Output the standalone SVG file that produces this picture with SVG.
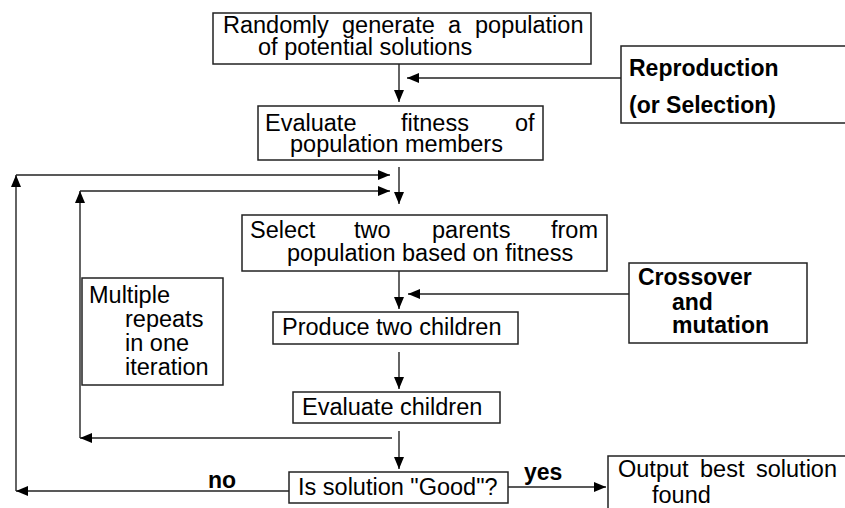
<svg xmlns="http://www.w3.org/2000/svg" width="845" height="508" viewBox="0 0 845 508">
  <defs>
    <marker id="arrow" markerUnits="userSpaceOnUse" markerWidth="12" markerHeight="10" refX="12" refY="5" orient="auto">
      <path d="M0,0 L12,5 L0,10 z" fill="#000"/>
    </marker>
    <style>
      .box { fill: #fff; stroke: #222; stroke-width: 1.5; }
      .txt { font-family: "Liberation Sans", Arial, sans-serif; font-size: 23.5px; fill: #000; }
      .bold { font-family: "Liberation Sans", Arial, sans-serif; font-size: 23px; font-weight: bold; fill: #000; }
      .conn line { stroke: #222; stroke-width: 1.4; marker-end: url(#arrow); }
    </style>
  </defs>
  <rect width="845" height="508" fill="#fff"/>

  <!-- connectors -->
  <g id="connectors" class="conn">
    <line x1="399" y1="64" x2="399" y2="102"/>
    <line x1="621" y1="78" x2="407" y2="78"/>
    <line x1="399" y1="167" x2="399" y2="204"/>
    <line x1="399" y1="271" x2="399" y2="309"/>
    <line x1="629" y1="294" x2="408" y2="294"/>
    <line x1="399" y1="352" x2="399" y2="389"/>
    <line x1="399" y1="431" x2="399" y2="469"/>
    <line x1="508" y1="487" x2="606" y2="487"/>
    <!-- outer loop: solution not good enough -->
    <line x1="289" y1="491" x2="16" y2="491"/>
    <line x1="16" y1="491" x2="16" y2="175"/>
    <line x1="16" y1="175" x2="390" y2="175"/>
    <!-- inner loop: repeats within one iteration -->
    <line x1="392" y1="438" x2="80" y2="438"/>
    <line x1="80" y1="438" x2="80" y2="191"/>
    <line x1="80" y1="191" x2="390" y2="191"/>
  </g>

  <g id="generate">
    <rect class="box" x="213" y="13" width="378" height="51"/>
    <text class="txt"><tspan x="223" y="33">Randomly</tspan><tspan x="342" y="33">generate</tspan><tspan x="448" y="33">a</tspan><tspan x="475" y="33">population</tspan><tspan x="258" y="55">of potential solutions</tspan></text>
  </g>

  <g id="reproduction">
    <rect class="box" x="621" y="46" width="240" height="77"/>
    <text class="bold"><tspan x="629" y="76">Reproduction</tspan><tspan x="629" y="113">(or Selection)</tspan></text>
  </g>

  <g id="evaluate-fitness">
    <rect class="box" x="258" y="106" width="285" height="54"/>
    <text class="txt"><tspan x="265" y="131">Evaluate</tspan><tspan x="401" y="131">fitness</tspan><tspan x="515" y="131">of</tspan><tspan x="290" y="152">population members</tspan></text>
  </g>

  <g id="select-parents">
    <rect class="box" x="242" y="215" width="365" height="56"/>
    <text class="txt"><tspan x="250" y="238">Select</tspan><tspan x="354" y="238">two</tspan><tspan x="432" y="238">parents</tspan><tspan x="551" y="238">from</tspan><tspan x="287" y="261">population based on fitness</tspan></text>
  </g>

  <g id="crossover">
    <rect class="box" x="629" y="263" width="178" height="80"/>
    <text class="bold"><tspan x="638" y="285">Crossover</tspan><tspan x="672" y="310">and</tspan><tspan x="672" y="333">mutation</tspan></text>
  </g>

  <g id="repeats">
    <rect class="box" x="82" y="278" width="141" height="107"/>
    <text class="txt"><tspan x="89" y="303">Multiple</tspan><tspan x="125" y="327">repeats</tspan><tspan x="125" y="351">in one</tspan><tspan x="125" y="375">iteration</tspan></text>
  </g>

  <g id="produce-children">
    <rect class="box" x="273" y="312" width="245" height="32"/>
    <text class="txt" x="282" y="335">Produce two children</text>
  </g>

  <g id="evaluate-children">
    <rect class="box" x="293" y="392" width="207" height="31"/>
    <text class="txt" x="302" y="415">Evaluate children</text>
  </g>

  <g id="is-good">
    <rect class="box" x="289" y="472" width="219" height="31"/>
    <text class="txt" x="298" y="495">Is solution "Good"?</text>
    <text class="bold" x="208" y="488">no</text>
    <text class="bold" x="524" y="480">yes</text>
  </g>

  <g id="output">
    <rect class="box" x="608" y="456" width="250" height="70"/>
    <text class="txt"><tspan x="618" y="477">Output</tspan><tspan x="700" y="477">best</tspan><tspan x="756" y="477">solution</tspan><tspan x="652" y="503">found</tspan></text>
  </g>
</svg>
